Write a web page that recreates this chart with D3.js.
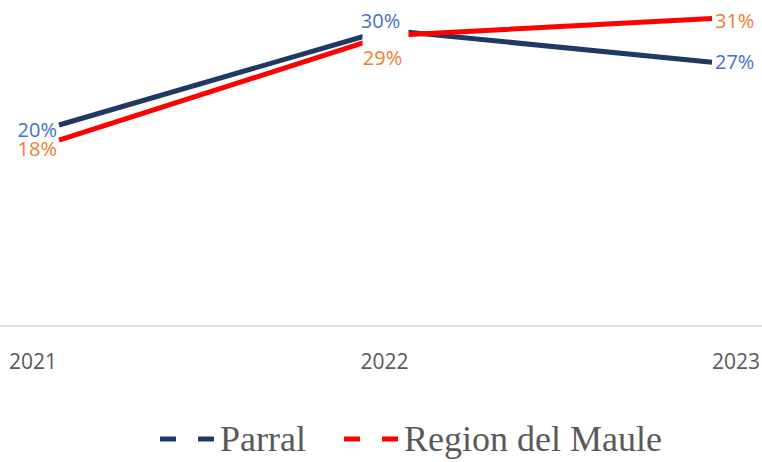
<!DOCTYPE html>
<html>
<head>
<meta charset="utf-8">
<script src="https://cdn.jsdelivr.net/npm/d3@7"></script>
<style>
  body { margin: 0; background: #fff; }
  svg { display: block; }
</style>
</head>
<body>
<div id="chart"></div>
<script>
// chart data
const years = ['2021', '2022', '2023']
const parral = [0.200, 0.300, 0.266]
const maule = [0.184, 0.294, 0.312]
const seriesNames = ['Parral', 'Region del Maule']

const width = 762
const height = 462

const series = [
  { name: seriesNames[0], values: parral, color: '#1F3864', label: '#4472C4',
    // label offsets per point: [anchor, dx, dy]
    pos: [['end', -2, 12], ['middle', -5, -2], ['start', 3, 7]] },
  { name: seriesNames[1], values: maule, color: '#FF0000', label: '#ED7D31',
    pos: [['end', -2, 16], ['middle', -3, 29], ['start', 3, 9]] }
]

const x = d3.scalePoint().domain(years).range([59, 712])
const xLabel = d3.scalePoint().domain(years).range([33, 736])
const y = d3.scaleLinear().domain([0, 0.32]).range([315, 11])
const fmt = d3.format('.0%')

const svg = d3.select('#chart')
  .append('svg')
  .attr('width', width)
  .attr('height', height)

// category axis line
svg.append('line')
  .attr('x1', 0).attr('x2', width)
  .attr('y1', 326).attr('y2', 326)
  .attr('stroke', '#D9D9D9')
  .attr('stroke-width', 1.5)

// tick labels
svg.selectAll('.tick-label')
  .data(years)
  .enter()
  .append('text')
  .attr('class', 'tick-label')
  .attr('x', d => xLabel(d))
  .attr('y', 369)
  .attr('text-anchor', 'middle')
  .attr('font-family', 'Open Sans, sans-serif')
  .attr('font-size', 21)
  .attr('fill', '#595959')
  .text(d => d)

// lines
const line = d3.line()
  .x((d, i) => x(years[i]))
  .y(d => y(d))

svg.selectAll('.series')
  .data(series)
  .enter()
  .append('path')
  .attr('class', 'series')
  .attr('d', d => line(d.values))
  .attr('fill', 'none')
  .attr('stroke', d => d.color)
  .attr('stroke-width', 5)

// white box behind the 2022 label
svg.append('rect')
  .attr('x', x('2022') - 23)
  .attr('y', 6)
  .attr('width', 46)
  .attr('height', 41)
  .attr('fill', '#fff')

// data labels
series.forEach(s => {
  svg.selectAll(null)
    .data(s.values)
    .enter()
    .append('text')
    .attr('x', (d, i) => x(years[i]) + s.pos[i][1])
    .attr('y', (d, i) => y(d) + s.pos[i][2])
    .attr('text-anchor', (d, i) => s.pos[i][0])
    .attr('font-family', 'Open Sans, sans-serif')
    .attr('font-size', 20)
    .attr('fill', s.label)
    .text(d => fmt(d))
})

// legend
const legendX = [160, 344]
const legend = svg.selectAll('.legend')
  .data(series)
  .enter()
  .append('g')
  .attr('class', 'legend')
  .attr('transform', (d, i) => `translate(${legendX[i]}, 439)`)

legend.append('line')
  .attr('x1', 0).attr('x2', 57)
  .attr('y1', 0).attr('y2', 0)
  .attr('stroke', d => d.color)
  .attr('stroke-width', 5)
  .attr('stroke-dasharray', '16 22')

legend.append('text')
  .attr('x', 60)
  .attr('y', 12)
  .attr('font-family', 'Liberation Serif, Times New Roman, serif')
  .attr('font-size', 36)
  .attr('fill', '#595959')
  .text(d => d.name)
</script>
</body>
</html>
